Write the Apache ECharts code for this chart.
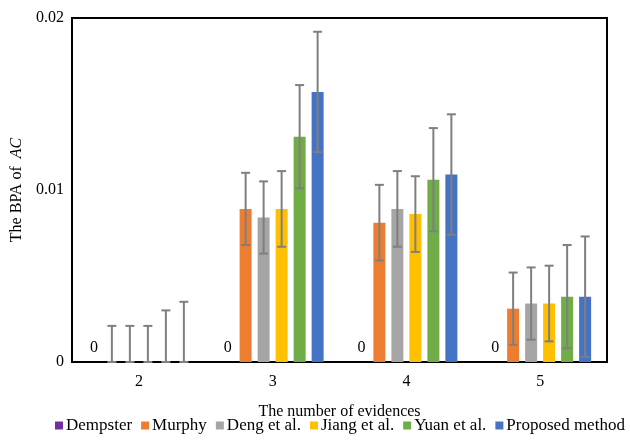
<!DOCTYPE html>
<html>
<head>
<meta charset="utf-8">
<script src="https://cdn.jsdelivr.net/npm/echarts@6/dist/echarts.min.js"></script>
<style>
    html, body { margin: 0; padding: 0; background: #fff; }
    #chart { width: 630px; height: 444px; }
</style>
</head>
<body>
<div id="chart"></div>
<script>
// number of evidences
const categories = ['2', '3', '4', '5']
const methods = ['Dempster', 'Murphy', 'Deng et al.', 'Jiang et al.', 'Yuan et al.', 'Proposed method']
const colors = ['#7030A0', '#ED7D31', '#A5A5A5', '#FFC000', '#70AD47', '#4472C4']

// BPA of AC per method
const dempster = [0, 0, 0, 0]
const murphy = [0, 0.0089, 0.0081, 0.0031]
const deng = [0, 0.0084, 0.0089, 0.0034]
const jiang = [0, 0.0089, 0.0086, 0.0034]
const yuan = [0, 0.0131, 0.0106, 0.0038]
const proposed = [0, 0.0157, 0.0109, 0.0038]

// error bar size per method
const errDempster = [0, 0, 0, 0]
const errMurphy = [0.0021, 0.0021, 0.0022, 0.0021]
const errDeng = [0.0021, 0.0021, 0.0022, 0.0021]
const errJiang = [0.0021, 0.0022, 0.0022, 0.0022]
const errYuan = [0.003, 0.003, 0.003, 0.003]
const errProposed = [0.0035, 0.0035, 0.0035, 0.0035]

const yTicks = [0, 0.01, 0.02]

const values = [dempster, murphy, deng, jiang, yuan, proposed]
const errors = [errDempster, errMurphy, errDeng, errJiang, errYuan, errProposed]

const BAR_W = 12
const BAR_GAP = 6
const FONT = '"Liberation Serif", "Times New Roman", serif'

// [category, method, low, high]
const errData = []
values.forEach((vals, m) => {
    vals.forEach((v, c) => {
        if (errors[m][c] > 0) {
            errData.push([c, m, Math.max(0, v - errors[m][c]), v + errors[m][c]])
        }
    })
})

const chart = echarts.init(document.getElementById('chart'))

const barSeries = methods.map((name, i) => ({
    name: name,
    type: 'bar',
    barWidth: BAR_W,
    barGap: (BAR_GAP / BAR_W * 100) + '%',
    itemStyle: { color: colors[i] },
    label: {
        show: i === 0,
        position: 'top',
        distance: 6,
        fontFamily: FONT,
        fontSize: 16,
        color: '#000',
        formatter: p => p.value,
    },
    data: values[i],
}))

const errorSeries = {
    type: 'custom',
    silent: true,
    z: 5,
    encode: { x: 0, y: [2, 3] },
    renderItem: (params, api) => {
        const c = api.value(0)
        const m = api.value(1)
        const x = api.coord([c, 0])[0] + (m - (methods.length - 1) / 2) * (BAR_W + BAR_GAP)
        const yLo = api.coord([c, api.value(2)])[1]
        const yHi = api.coord([c, api.value(3)])[1]
        const style = { stroke: '#7F7F7F', lineWidth: 2 }
        return {
            type: 'group',
            children: [
                { type: 'line', shape: { x1: x, y1: yLo, x2: x, y2: yHi }, style: style },
                { type: 'line', shape: { x1: x - 4.5, y1: yHi, x2: x + 4.5, y2: yHi }, style: style },
                { type: 'line', shape: { x1: x - 4.5, y1: yLo, x2: x + 4.5, y2: yLo }, style: style },
            ],
        }
    },
    data: errData,
}

const option = {
    animation: false,
    grid: {
        left: 72,
        right: 23,
        top: 18,
        bottom: 82,
        show: true,
        borderColor: '#000',
        borderWidth: 2,
    },
    legend: {
        data: methods,
        top: 417,
        left: 55,
        width: 600,
        padding: 0,
        icon: 'rect',
        itemWidth: 8,
        itemHeight: 8,
        itemGap: 9,
        textStyle: { fontFamily: FONT, fontSize: 17, color: '#000', padding: [0, 0, 0, -2] },
    },
    xAxis: {
        type: 'category',
        data: categories,
        name: 'The number of evidences',
        nameLocation: 'middle',
        nameGap: 42,
        nameTextStyle: { fontFamily: FONT, fontSize: 16, color: '#000' },
        axisLine: { lineStyle: { color: '#000', width: 2 } },
        axisTick: { show: false },
        axisLabel: { fontFamily: FONT, fontSize: 16, color: '#000', margin: 12 },
    },
    yAxis: {
        type: 'value',
        min: yTicks[0],
        max: yTicks[yTicks.length - 1],
        interval: yTicks[1] - yTicks[0],
        name: '{n|The BPA of  }{i|AC}',
        nameLocation: 'middle',
        nameGap: 46,
        nameTextStyle: {
            rich: {
                n: { fontFamily: FONT, fontSize: 16, color: '#000' },
                i: { fontFamily: FONT, fontSize: 16, color: '#000', fontStyle: 'italic' },
            },
        },
        axisLine: { show: true, lineStyle: { color: '#000', width: 2 } },
        axisTick: { show: false },
        splitLine: { show: false },
        axisLabel: { fontFamily: FONT, fontSize: 16, color: '#000', margin: 8 },
    },
    series: [...barSeries, errorSeries],
}

chart.setOption(option)
</script>
</body>
</html>
